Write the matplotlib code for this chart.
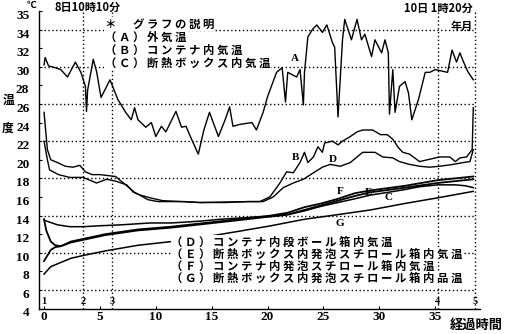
import matplotlib
matplotlib.use("Agg")
import matplotlib.pyplot as plt
from matplotlib.transforms import ScaledTranslation

plt.rcParams['font.family'] = ['Noto Sans CJK JP', 'DejaVu Sans']

# elapsed time [h] / temperature [deg C]
a_h = [0.0, 0.1, 0.4, 1.0, 1.5, 2.1, 2.8, 3.3, 3.7, 3.8, 3.9, 4.4, 4.7, 5.1, 5.9, 6.6, 7.3, 7.8, 8.1, 8.4,
       9.1, 9.6, 10.0, 10.5, 10.9, 11.8, 12.3, 12.7, 13.2, 13.8, 14.3, 14.8, 15.6, 16.2, 16.6, 16.9, 17.5,
       18.6, 19.0, 19.6, 20.0, 20.8, 21.3, 21.6, 21.8, 22.6, 22.9, 23.2, 23.3, 23.6, 24.0, 24.4, 24.9, 25.3,
       25.8, 26.0, 26.3, 26.7, 26.9, 27.5, 28.0, 28.4, 28.7, 29.3, 29.6, 30.2, 30.5, 30.8, 30.9, 31.2, 31.4,
       31.8, 32.3, 32.6, 32.9, 33.5, 34.1, 34.5, 35.0, 36.1, 36.5, 36.9, 37.2, 37.5, 37.9, 38.4]
a_t = [30.2, 31.0, 30.1, 29.9, 29.7, 28.9, 30.5, 29.4, 27.9, 25.2, 27.5, 30.8, 29.5, 26.7, 28.6, 26.5, 25.1, 24.3, 25.6, 24.3,
       23.5, 24.0, 22.5, 23.6, 23.0, 25.2, 23.5, 23.6, 22.2, 20.6, 23.2, 25.1, 22.5, 24.3, 25.7, 23.6, 23.8,
       24.0, 23.2, 25.1, 26.8, 29.4, 29.9, 26.2, 29.4, 28.9, 29.7, 25.9, 29.4, 33.2, 34.0, 34.5, 33.7, 34.5,
       32.6, 32.1, 24.6, 32.9, 35.1, 32.9, 35.1, 32.9, 33.5, 31.1, 32.9, 31.5, 32.9, 31.5, 24.9, 29.7, 25.1,
       27.9, 28.4, 27.2, 24.3, 26.5, 29.4, 29.4, 29.7, 29.4, 31.8, 30.5, 31.5, 30.6, 29.5, 28.6]

b_h = [0.0, 0.3, 0.6, 1.2, 1.9, 2.6, 3.2, 3.7, 4.3, 5.0, 6.4, 7.5, 8.1, 9.3, 10.2, 12.6, 13.8, 16.2, 18.2,
       19.3, 20.2, 21.1, 21.7, 22.3, 22.9, 23.3, 23.6, 24.1, 24.5, 24.9, 25.1, 25.8, 26.3, 26.7, 27.4, 28.0,
       28.5, 29.4, 30.1, 30.7, 31.2, 31.7, 32.1, 32.7, 33.6, 34.3, 35.4, 36.3, 36.8, 37.2, 37.8, 38.3, 38.4]
b_t = [25.1, 21.1, 20.0, 19.7, 19.3, 19.2, 19.4, 18.7, 18.4, 18.4, 18.2, 17.1, 16.5, 15.7, 15.5, 15.5, 15.4, 15.4, 15.5,
       15.5, 16.0, 17.5, 18.7, 18.6, 19.7, 20.8, 19.7, 20.3, 21.4, 20.8, 21.8, 22.0, 21.6, 22.0, 22.5, 23.0,
       23.2, 23.2, 22.7, 22.7, 22.2, 21.3, 20.8, 20.6, 19.8, 20.0, 20.3, 20.3, 19.8, 20.2, 20.3, 21.1, 25.6]

c_h = [0.0, 1.2, 2.3, 3.5, 5.0, 6.9, 9.5, 11.4, 14.0, 15.8, 18.4, 20.3, 21.8, 23.3, 24.8, 26.3, 27.8,
       29.2, 30.8, 32.3, 33.6, 35.2, 36.8, 37.7, 38.4]
c_t = [13.5, 13.0, 12.8, 12.8, 12.9, 13.0, 13.2, 13.2, 13.4, 13.6, 13.8, 13.9, 14.1, 14.5, 15.0, 15.4, 15.8,
       16.2, 16.5, 16.8, 17.1, 17.3, 17.3, 17.2, 17.0]

d_h = [0.0, 0.3, 0.5, 1.3, 2.3, 3.5, 4.7, 5.6, 6.4, 7.4, 8.0, 8.6, 9.5, 10.6, 14.0, 18.4, 19.6, 20.5, 21.4,
       22.3, 23.2, 24.1, 24.9, 25.6, 26.5, 27.4, 28.0, 28.5, 29.6, 30.3, 31.2, 31.8, 32.7, 33.6, 34.5, 35.4,
       36.6, 37.5, 38.1, 38.4]
d_t = [22.0, 20.0, 18.9, 18.4, 18.1, 18.1, 17.5, 17.9, 17.7, 17.3, 16.5, 16.2, 15.9, 15.6, 15.4, 15.5, 15.5, 16.0, 17.0,
       17.5, 17.9, 18.6, 19.2, 19.5, 19.3, 19.7, 20.3, 20.8, 20.8, 20.3, 20.2, 19.8, 19.5, 19.3, 19.2, 19.3,
       19.5, 19.7, 19.8, 21.1]

e_h = [0.0, 0.3, 0.6, 1.0, 1.5, 2.4, 5.5, 8.4, 11.4, 14.4, 17.4, 20.3, 21.8, 23.3, 24.8, 26.3, 27.8, 29.2,
       32.3, 35.2, 38.4]
e_t = [9.1, 9.7, 10.3, 10.6, 10.7, 11.1, 11.9, 12.4, 12.7, 13.1, 13.5, 13.9, 14.1, 14.6, 15.1, 15.6, 16.1, 16.5,
       17.0, 17.5, 17.9]

f_h = [0.0, 0.2, 0.6, 1.0, 1.5, 2.4, 5.5, 8.4, 11.4, 14.4, 17.4, 20.3, 21.8, 23.3, 24.8, 26.3, 27.8, 29.2,
       32.3, 35.2, 38.4]
f_t = [13.6, 12.4, 11.2, 10.8, 10.7, 11.2, 12.0, 12.5, 12.8, 13.2, 13.6, 14.0, 14.3, 14.9, 15.3, 15.8, 16.4, 16.7,
       17.2, 17.8, 18.2]

g_h = [0.0, 0.6, 1.4, 2.4, 3.5, 5.5, 8.4, 11.4, 14.4, 17.4, 20.3, 23.3, 26.3, 29.2, 32.3, 35.2, 38.4]
g_t = [7.7, 8.5, 8.9, 9.4, 9.7, 10.2, 10.8, 11.2, 11.7, 12.3, 12.9, 13.6, 14.1, 14.6, 15.3, 15.9, 16.6]

y_ticks = [4, 6, 8, 10, 12, 14, 16, 18, 20, 22, 24, 26, 28, 30, 32, 34, 36]
y_labels = ['4', '6', '8', '10', '12', '14', '16', '18', '20', '22', '24', '26', '28', '30', '32', '34', '35']
x_ticks = [0, 5, 10, 15, 20, 25, 30, 35]
grid_t = [6, 10, 14, 18, 22, 26, 30, 34]
marker_h = [0.0, 3.5, 6.1, 35.2, 38.55]
marker_names = ['1', '2', '3', '4', '5']

legend_top = ['＊  グラフの説明', '（Ａ）外気温', '（Ｂ）コンテナ内気温', '（Ｃ）断熱ボックス内気温']
legend_bottom = ['（Ｄ）コンテナ内段ボール箱内気温', '（Ｅ）断熱ボックス内発泡スチロール箱内気温',
                 '（Ｆ）コンテナ内発泡スチロール箱内気温', '（Ｇ）断熱ボックス内発泡スチロール箱内品温']


def spaced(s):
    return ' '.join(s.replace('  ', '\u3000'))


fig = plt.figure(figsize=(5.06, 3.34), dpi=100)
ax = fig.add_axes([39 / 506, 25.5 / 334, 441 / 506, 297.5 / 334])
ax.set_xlim(-0.45, 39.0)
ax.set_ylim(4, 36)

dots = (0, (1, 1.8))
ax.hlines(grid_t, 0, marker_h[-1], colors='black', linestyles=dots, linewidth=1.0, zorder=1.5)
ax.vlines(marker_h[1:], 4, 36, colors='black', linestyles=dots, linewidth=1.0, zorder=1.5)

ax.plot(a_h, a_t, color='black', lw=1.0)
ax.plot(b_h, b_t, color='black', lw=1.0)
ax.plot(d_h, d_t, color='black', lw=1.0)
ax.plot(c_h, c_t, color='black', lw=1.1)
ax.plot(e_h, e_t, color='black', lw=1.3)
ax.plot(f_h, f_t, color='black', lw=1.3)
ax.plot(g_h, g_t, color='black', lw=1.1)

lab = dict(fontsize=8, fontweight='bold', family=['Liberation Serif', 'DejaVu Serif'],
           ha='center', va='center')
ax.text(22.4, 30.9, 'A', **lab)
ax.text(22.5, 20.2, 'B', **lab)
ax.text(25.8, 20.0, 'D', **lab)
ax.text(26.5, 16.6, 'F', **lab)
ax.text(29.0, 16.5, 'E', **lab)
ax.text(30.8, 15.9, 'C', **lab)
ax.text(26.5, 13.1, 'G', **lab)

for h, name in zip(marker_h, marker_names):
    ax.text(h, 4.75, name, fontsize=7.5, fontweight='bold', family=['Liberation Serif', 'DejaVu Serif'],
            ha='center', va='center')

txt = dict(fontsize=8.2, fontweight='bold', ha='left', va='center',
           bbox=dict(facecolor='white', edgecolor='none', pad=0.6), zorder=3)
for i, s in enumerate(legend_top):
    ax.text(5.45, 34.6 - 1.4 * i, spaced(s), **txt)
for i, s in enumerate(legend_bottom):
    ax.text(11.4, 11.1 - 1.3 * i, spaced(s), **txt)

ax.set_yticks(y_ticks)
ax.set_yticklabels(y_labels)
ax.set_xticks(x_ticks)
ax.tick_params(direction='in', length=2, width=0.8)
ax.tick_params(axis='y', pad=7)
ax.tick_params(axis='x', pad=1.5)
shift = ScaledTranslation(0, -2.5 / 72, fig.dpi_scale_trans)
for t in ax.get_xticklabels() + ax.get_yticklabels():
    t.set_family(['Liberation Serif', 'DejaVu Serif'])
    t.set_fontweight('bold')
    t.set_fontsize(9.5)
for t in ax.get_yticklabels():
    t.set_transform(t.get_transform() + shift)

ax.spines['top'].set_visible(False)
ax.spines['right'].set_visible(False)
ax.spines['left'].set_linewidth(1.0)
ax.spines['bottom'].set_linewidth(1.0)

fig.text(0.062, 0.986, '℃', fontsize=7, fontweight='bold', ha='center', va='center')
fig.text(0.108, 0.979, '8日10時10分', fontsize=8, fontweight='bold', ha='left', va='center')
fig.text(0.934, 0.976, '10日 1時20分', fontsize=8, fontweight='bold', ha='right', va='center')
fig.text(0.934, 0.922, '年月', fontsize=8, fontweight='bold', ha='right', va='center')
fig.text(0.016, 0.700, '温', fontsize=8.5, fontweight='bold', ha='center', va='center')
fig.text(0.016, 0.617, '度', fontsize=8.5, fontweight='bold', ha='center', va='center')
fig.text(0.994, 0.027, '経過時間', fontsize=9.5, fontweight='bold', ha='right', va='center')

plt.savefig('out.png', dpi=100)
